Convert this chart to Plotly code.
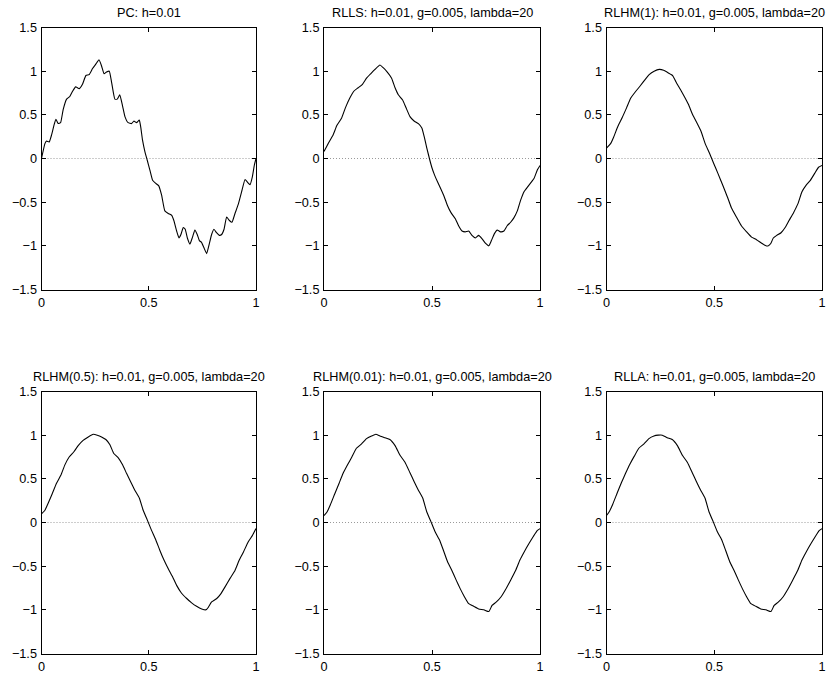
import plotly.graph_objects as go

titles = [
    "PC: h=0.01",
    "RLLS: h=0.01, g=0.005, lambda=20",
    "RLHM(1): h=0.01, g=0.005, lambda=20",
    "RLHM(0.5): h=0.01, g=0.005, lambda=20",
    "RLHM(0.01): h=0.01, g=0.005, lambda=20",
    "RLLA: h=0.01, g=0.005, lambda=20",
]

pc_x = [0, 0.016, 0.023, 0.036, 0.047, 0.058, 0.067, 0.078, 0.089, 0.101, 0.117, 0.132, 0.145, 0.159,
        0.176, 0.191, 0.207, 0.222, 0.238, 0.253, 0.268, 0.280, 0.292, 0.303, 0.316, 0.327, 0.342,
        0.353, 0.365, 0.378, 0.389, 0.404, 0.420, 0.431, 0.443, 0.456, 0.462, 0.471, 0.482, 0.493,
        0.505, 0.518, 0.530, 0.546, 0.560, 0.575, 0.591, 0.607, 0.617, 0.630, 0.641, 0.650, 0.661,
        0.670, 0.680, 0.692, 0.704, 0.715, 0.726, 0.736, 0.746, 0.757, 0.770, 0.782, 0.793, 0.804,
        0.816, 0.829, 0.840, 0.851, 0.863, 0.876, 0.888, 0.902, 0.918, 0.933, 0.949, 0.960, 0.972,
        0.983, 0.992, 1.0]
pc_y = [0.0, 0.17, 0.20, 0.19, 0.27, 0.38, 0.45, 0.40, 0.41, 0.56, 0.68, 0.71, 0.77, 0.82,
        0.80, 0.85, 0.95, 0.96, 1.03, 1.08, 1.13, 1.06, 0.97, 0.99, 1.00, 0.87, 0.68,
        0.68, 0.73, 0.60, 0.48, 0.41, 0.40, 0.43, 0.41, 0.44, 0.37, 0.21, 0.08, -0.02,
        -0.13, -0.25, -0.28, -0.31, -0.42, -0.60, -0.63, -0.65, -0.71, -0.83, -0.91, -0.87, -0.79,
        -0.81, -0.91, -0.98, -0.90, -0.82, -0.87, -0.94, -0.96, -1.02, -1.09, -0.98, -0.87, -0.81,
        -0.85, -0.88, -0.87, -0.81, -0.67, -0.71, -0.73, -0.63, -0.52, -0.38, -0.24, -0.27, -0.30,
        -0.21, -0.08, 0.0]

rlls_x = [0, 0.019, 0.042, 0.060, 0.081, 0.099, 0.119, 0.138, 0.158, 0.178, 0.197, 0.216, 0.236,
          0.259, 0.274, 0.293, 0.313, 0.329, 0.344, 0.364, 0.380, 0.398, 0.417, 0.437, 0.453, 0.464,
          0.476, 0.488, 0.499, 0.512, 0.526, 0.541, 0.557, 0.572, 0.588, 0.608, 0.623, 0.639, 0.654,
          0.670, 0.685, 0.701, 0.716, 0.732, 0.747, 0.763, 0.775, 0.789, 0.802, 0.817, 0.833, 0.848,
          0.864, 0.879, 0.895, 0.910, 0.926, 0.941, 0.957, 0.972, 0.988, 1.0]
rlls_y = [0.08, 0.17, 0.27, 0.38, 0.46, 0.58, 0.69, 0.77, 0.81, 0.85, 0.92, 0.97, 1.02,
          1.07, 1.04, 0.99, 0.92, 0.81, 0.73, 0.67, 0.58, 0.48, 0.43, 0.40, 0.35, 0.25,
          0.12, 0.0, -0.10, -0.19, -0.27, -0.35, -0.44, -0.54, -0.62, -0.69, -0.77, -0.83, -0.84,
          -0.83, -0.88, -0.91, -0.88, -0.92, -0.97, -1.0, -0.94, -0.86, -0.82, -0.84, -0.83, -0.77,
          -0.73, -0.68, -0.60, -0.48, -0.38, -0.33, -0.28, -0.23, -0.13, -0.08]

hm1_x = [0, 0.019, 0.034, 0.053, 0.073, 0.093, 0.112, 0.136, 0.156, 0.178, 0.198, 0.221, 0.245,
         0.265, 0.287, 0.307, 0.322, 0.343, 0.361, 0.380, 0.400, 0.421, 0.439, 0.458, 0.478, 0.498,
         0.517, 0.540, 0.561, 0.579, 0.603, 0.626, 0.650, 0.673, 0.696, 0.720, 0.740, 0.751, 0.763,
         0.774, 0.790, 0.810, 0.829, 0.847, 0.868, 0.888, 0.907, 0.925, 0.946, 0.966, 0.984, 1.0]
hm1_y = [0.12, 0.17, 0.25, 0.37, 0.47, 0.58, 0.69, 0.77, 0.83, 0.90, 0.96, 1.00, 1.02,
         1.01, 0.98, 0.95, 0.88, 0.79, 0.71, 0.62, 0.50, 0.40, 0.31, 0.17, 0.06, -0.06,
         -0.17, -0.31, -0.44, -0.56, -0.67, -0.77, -0.84, -0.90, -0.93, -0.97, -1.0, -1.0, -0.97,
         -0.91, -0.88, -0.85, -0.79, -0.71, -0.62, -0.52, -0.38, -0.31, -0.25, -0.17, -0.10, -0.08]

hm05_x = [0, 0.016, 0.031, 0.050, 0.070, 0.090, 0.109, 0.129, 0.151, 0.171, 0.194, 0.218, 0.241,
          0.260, 0.280, 0.300, 0.319, 0.337, 0.358, 0.378, 0.397, 0.415, 0.435, 0.456, 0.474, 0.493,
          0.513, 0.533, 0.552, 0.571, 0.591, 0.611, 0.630, 0.653, 0.677, 0.700, 0.723, 0.747, 0.767,
          0.778, 0.793, 0.817, 0.835, 0.855, 0.879, 0.902, 0.922, 0.941, 0.964, 0.983, 1.0]
hm05_y = [0.10, 0.14, 0.22, 0.33, 0.45, 0.54, 0.66, 0.75, 0.81, 0.88, 0.94, 0.98, 1.01,
          1.00, 0.98, 0.95, 0.89, 0.79, 0.74, 0.66, 0.56, 0.47, 0.37, 0.28, 0.14, 0.03,
          -0.09, -0.20, -0.32, -0.43, -0.53, -0.62, -0.72, -0.81, -0.87, -0.92, -0.96, -0.99, -1.0,
          -0.97, -0.91, -0.87, -0.82, -0.74, -0.64, -0.55, -0.43, -0.34, -0.22, -0.15, -0.07]

hm001_x = [0, 0.014, 0.029, 0.050, 0.070, 0.088, 0.109, 0.129, 0.150, 0.174, 0.197, 0.220, 0.240,
           0.259, 0.282, 0.305, 0.329, 0.352, 0.375, 0.398, 0.417, 0.437, 0.457, 0.476, 0.495,
           0.515, 0.535, 0.553, 0.572, 0.592, 0.612, 0.631, 0.650, 0.670, 0.693, 0.716, 0.740,
           0.763, 0.778, 0.798, 0.820, 0.840, 0.864, 0.887, 0.907, 0.926, 0.949, 0.969, 0.988, 1.0]
hm001_y = [0.08, 0.12, 0.20, 0.33, 0.45, 0.56, 0.66, 0.75, 0.85, 0.90, 0.96, 0.99, 1.01,
           0.99, 0.97, 0.95, 0.88, 0.77, 0.69, 0.57, 0.47, 0.37, 0.28, 0.12, 0.01,
           -0.11, -0.20, -0.32, -0.45, -0.55, -0.66, -0.76, -0.85, -0.93, -0.96, -0.99, -1.0,
           -1.02, -0.95, -0.91, -0.85, -0.77, -0.66, -0.55, -0.43, -0.34, -0.24, -0.16, -0.09, -0.07]

rlla_x = [0, 0.014, 0.029, 0.050, 0.070, 0.088, 0.109, 0.129, 0.150, 0.174, 0.197, 0.220, 0.240,
          0.259, 0.282, 0.305, 0.329, 0.352, 0.375, 0.398, 0.417, 0.437, 0.457, 0.476, 0.495,
          0.515, 0.535, 0.553, 0.572, 0.592, 0.612, 0.631, 0.650, 0.670, 0.693, 0.716, 0.740,
          0.763, 0.778, 0.798, 0.820, 0.840, 0.864, 0.887, 0.907, 0.926, 0.949, 0.969, 0.988, 1.0]
rlla_y = [0.08, 0.13, 0.21, 0.34, 0.46, 0.56, 0.67, 0.76, 0.85, 0.90, 0.96, 0.99, 1.00,
          1.00, 0.97, 0.95, 0.88, 0.77, 0.69, 0.57, 0.47, 0.37, 0.28, 0.12, 0.01,
          -0.11, -0.20, -0.32, -0.45, -0.55, -0.66, -0.76, -0.85, -0.93, -0.96, -0.99, -1.0,
          -1.02, -0.95, -0.91, -0.85, -0.77, -0.66, -0.55, -0.43, -0.34, -0.24, -0.16, -0.09, -0.07]

series = [(pc_x, pc_y), (rlls_x, rlls_y), (hm1_x, hm1_y),
          (hm05_x, hm05_y), (hm001_x, hm001_y), (rlla_x, rlla_y)]

xticks = [0, 0.5, 1]
xticklabels = ["0", "0.5", "1"]
yticks = [-1.5, -1, -0.5, 0, 0.5, 1, 1.5]
yticklabels = ["\u22121.5", "\u22121", "\u22120.5", "0", "0.5", "1", "1.5"]
zero_x = [0, 1]
zero_y = [0, 0]

W, H = 833, 674
col_px = [(41.5, 256), (324, 540), (606.5, 822)]
row_px = [(27.5, 289.5), (391.5, 653.5)]

FONT = "Liberation Sans, Arial, Helvetica, sans-serif"
FS = 12.7

fig = go.Figure()
layout = dict(
    width=W, height=H, margin=dict(l=0, r=0, t=0, b=0, autoexpand=False),
    paper_bgcolor="white", plot_bgcolor="white", showlegend=False,
    font=dict(family=FONT, size=FS, color="black"),
)
annotations = []
for i, (xs, ys) in enumerate(series):
    r, c = divmod(i, 3)
    n = "" if i == 0 else str(i + 1)
    xa, ya = "x" + n, "y" + n
    fig.add_trace(go.Scatter(x=zero_x, y=zero_y, mode="lines", xaxis=xa, yaxis=ya,
                             line=dict(color="#9a9a9a", width=1, dash="1px,2px"), hoverinfo="skip"))
    fig.add_trace(go.Scatter(x=xs, y=ys, mode="lines", xaxis=xa, yaxis=ya,
                             line=dict(color="black", width=1.1, shape="spline", smoothing=0.4)))
    x0, x1 = col_px[c]
    y0, y1 = row_px[r]
    common = dict(showline=True, linecolor="black", linewidth=1, mirror="allticks",
                  ticks="inside", ticklen=4, tickcolor="black", showgrid=False, zeroline=False,
                  automargin=False,
                  tickfont=dict(family=FONT, size=FS, color="black"))
    layout["xaxis" + n] = dict(domain=[x0 / W, x1 / W], range=[0, 1], anchor=ya,
                               tickvals=xticks, ticktext=xticklabels, ticklabelstandoff=1, **common)
    layout["yaxis" + n] = dict(domain=[1 - y1 / H, 1 - y0 / H], range=[-1.5, 1.5], anchor=xa,
                               tickvals=yticks, ticktext=yticklabels, ticklabelstandoff=1, **common)
    annotations.append(dict(text=titles[i], x=(x0 + x1) / 2 / W, y=1 - y0 / H, xref="paper",
                            yref="paper", xanchor="center", yanchor="bottom", yshift=6,
                            showarrow=False, font=dict(family=FONT, size=FS, color="black")))
layout["annotations"] = annotations
fig.update_layout(**layout)
fig.write_html("out.html")
